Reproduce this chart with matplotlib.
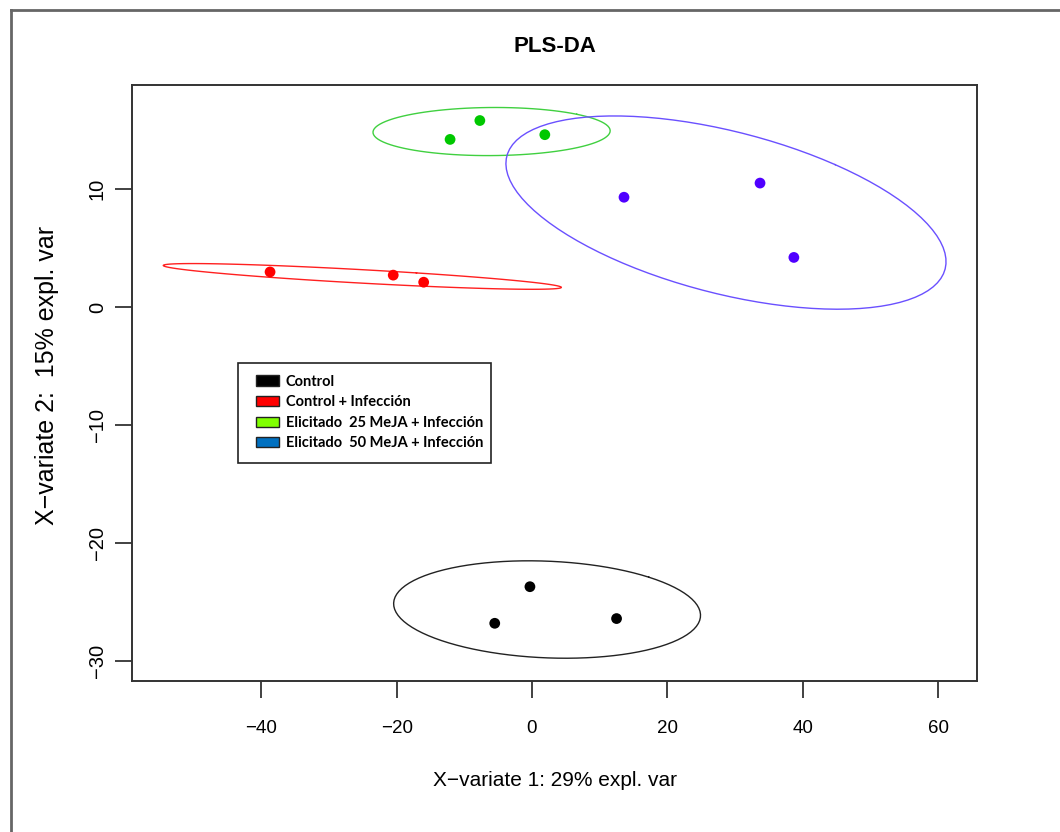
import numpy as np
import matplotlib
matplotlib.use("Agg")
import matplotlib.pyplot as plt
from matplotlib.patches import Patch, Rectangle
from matplotlib.lines import Line2D

# PLS-DA scores, component 1 and 2
groups = ["Control", "Control + Infección",
          "Elicitado  25 MeJA + Infección", "Elicitado  50 MeJA + Infección"]
ctrl_x = [-5.5, -0.3, 12.5]
ctrl_y = [-26.8, -23.7, -26.4]
inf_x = [-38.7, -20.5, -16.0]
inf_y = [2.97, 2.7, 2.1]
me25_x = [-12.1, -7.7, 1.9]
me25_y = [14.2, 15.8, 14.6]
me50_x = [13.6, 33.7, 38.7]
me50_y = [9.3, 10.5, 4.2]

point_colors = ["#000000", "#FF0000", "#00C800", "#5000FF"]
ellipse_colors = ["#222222", "#FF2020", "#40D040", "#6A50FF"]
legend_colors = ["#000000", "#FF0000", "#80FF00", "#0070C0"]

x_ticks = [-40, -20, 0, 20, 40, 60]
y_ticks = [-30, -20, -10, 0, 10]

W, H = 1060, 832
fig = plt.figure(figsize=(W / 100, H / 100), dpi=100)


def fx(px):
    return px / W


def fy(py):
    return 1 - py / H


ax = fig.add_axes([fx(132), fy(681), fx(977) - fx(132), fy(85) - fy(681)])


def conf_ellipse(x, y, level=0.95, n=100):
    """Confidence ellipse from the sample covariance (ellipse-package style)."""
    pts = np.column_stack([x, y])
    c = np.cov(pts, rowvar=False)
    centre = pts.mean(axis=0)
    t = np.sqrt(-2 * np.log(1 - level))  # sqrt(qchisq(level, 2))
    sx, sy = np.sqrt(np.diag(c))
    r = c[0, 1] / (sx * sy)
    d = np.arccos(r)
    a = np.linspace(0, 2 * np.pi, n)
    ex = t * sx * np.cos(a + d / 2) + centre[0]
    ey = t * sy * np.cos(a - d / 2) + centre[1]
    return ex, ey


data = [(ctrl_x, ctrl_y), (inf_x, inf_y), (me25_x, me25_y), (me50_x, me50_y)]
for (gx, gy), pc, ec in zip(data, point_colors, ellipse_colors):
    ex, ey = conf_ellipse(gx, gy)
    ax.plot(ex, ey, color=ec, lw=1.0, zorder=2)
    ax.scatter(gx, gy, s=60, color=pc, edgecolors="none", zorder=3)

ax.set_xlim(-59.1, 65.76)
ax.set_ylim(-31.69, 18.81)

regular = ["Liberation Sans", "DejaVu Sans"]

ax.set_xticks(x_ticks)
ax.set_yticks(y_ticks)
ax.set_xticklabels([f"\u2212{abs(v)}" if v < 0 else str(v) for v in x_ticks],
                   fontsize=13.5, family=regular)
ax.set_yticklabels([f"\u2212{abs(v)}" if v < 0 else str(v) for v in y_ticks],
                   fontsize=14.5, family=regular, rotation=90, va="center")
ax.tick_params(axis="x", length=12, width=1.3, color="#333333", pad=16)
ax.tick_params(axis="y", length=12, width=1.3, color="#333333", pad=6)
for s in ax.spines.values():
    s.set_color("#333333")
    s.set_linewidth(1.4)

fig.text(fx(555), fy(47), "PLS-DA", fontsize=16, fontweight="bold",
         family=regular, ha="center", va="center")
fig.text(fx(555), fy(780), "X\u2212variate 1: 29% expl. var", fontsize=15,
         family=regular, ha="center", va="center")
fig.text(fx(47), fy(375), "X\u2212variate 2:  15% expl. var", fontsize=18,
         family=regular, ha="center", va="center", rotation=90)

# legend box
fig.patches.append(Rectangle((fx(238), fy(463)), fx(491) - fx(238), fy(363) - fy(463),
                             transform=fig.transFigure, facecolor="white",
                             edgecolor="#222222", lw=1.2, zorder=5))
handles = [Patch(facecolor=c, edgecolor="#222222", lw=1.0) for c in legend_colors]
leg = fig.legend(handles, groups, loc="upper left",
                 bbox_to_anchor=(fx(244), fy(363)), frameon=False,
                 prop={"family": ["Lato", "DejaVu Sans"], "weight": "bold", "size": 10.5},
                 handlelength=1.6, handleheight=0.7, handletextpad=0.45,
                 labelspacing=0.45, borderpad=0.3)
leg.set_zorder(6)

# outer frame of the figure
fig.add_artist(Line2D([fx(11), 1], [fy(10), fy(10)], transform=fig.transFigure,
                      color="#666666", lw=2))
fig.add_artist(Line2D([fx(11), fx(11)], [fy(10), 0], transform=fig.transFigure,
                      color="#666666", lw=2))

fig.savefig("out.png", dpi=100, facecolor="white")
